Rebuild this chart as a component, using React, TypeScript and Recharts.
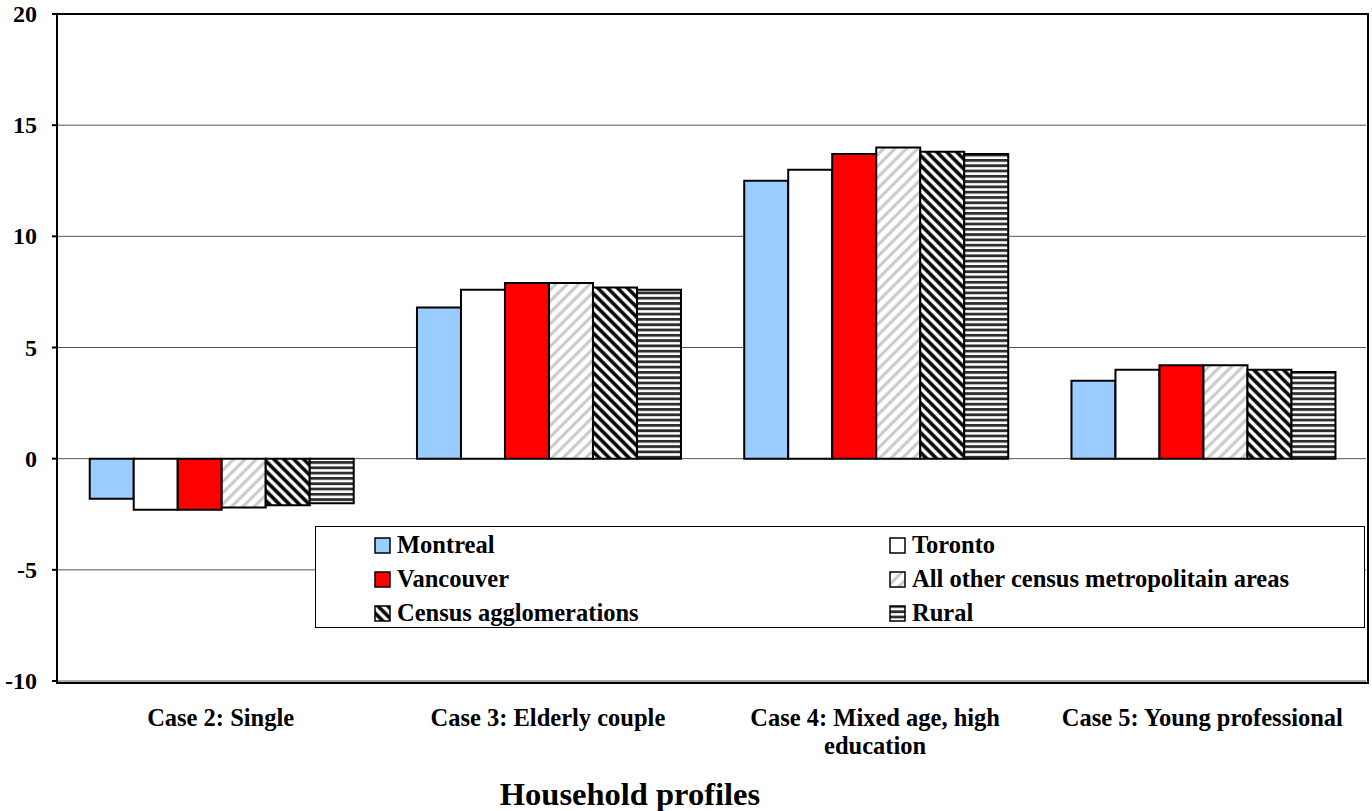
import { Bar, BarChart, CartesianGrid, XAxis, YAxis } from "recharts";

// Household profiles (x axis); "\n" marks where a label wraps
const profiles = [
  "Case 2: Single",
  "Case 3: Elderly couple",
  "Case 4: Mixed age, high\neducation",
  "Case 5: Young professional",
];

const montreal = [-1.8, 6.8, 12.5, 3.5];
const toronto = [-2.3, 7.6, 13.0, 4.0];
const vancouver = [-2.3, 7.9, 13.7, 4.2];
const otherCma = [-2.2, 7.9, 14.0, 4.2];
const censusAgglo = [-2.1, 7.7, 13.8, 4.0];
const rural = [-2.0, 7.6, 13.7, 3.9];

const yTicks = [-10, -5, 0, 5, 10, 15, 20];

const series = [
  { key: "montreal", name: "Montreal", values: montreal, fill: "#99ccff" },
  { key: "toronto", name: "Toronto", values: toronto, fill: "#ffffff" },
  { key: "vancouver", name: "Vancouver", values: vancouver, fill: "#ff0000" },
  { key: "otherCma", name: "All other census metropolitain areas", values: otherCma, fill: "url(#hatchOther)" },
  { key: "censusAgglo", name: "Census agglomerations", values: censusAgglo, fill: "url(#hatchAgglo)" },
  { key: "rural", name: "Rural", values: rural, fill: "url(#hatchRural)" },
];

const data = profiles.map((profile, i) => {
  const row: Record<string, string | number> = { profile };
  series.forEach((s) => {
    row[s.key] = s.values[i];
  });
  return row;
});

const FONT = "'Liberation Serif', 'Times New Roman', serif";

const W = 1372;
const H = 811;
const PLOT = { left: 57, top: 14, right: 1366, bottom: 681 };

// legend layout: left column and right column
const legendOrder = [
  ["montreal", "toronto"],
  ["vancouver", "otherCma"],
  ["censusAgglo", "rural"],
];

function Patterns() {
  return (
    <defs>
      <pattern id="hatchOther" patternUnits="userSpaceOnUse" width="8" height="8" patternTransform="rotate(45)">
        <rect width="8" height="8" fill="#ffffff" />
        <line x1="2" y1="0" x2="2" y2="8" stroke="#c8c8c8" strokeWidth="3" />
      </pattern>
      <pattern id="hatchAgglo" patternUnits="userSpaceOnUse" width="7" height="7" patternTransform="rotate(-45)">
        <rect width="7" height="7" fill="#ffffff" />
        <line x1="2" y1="0" x2="2" y2="7" stroke="#000000" strokeWidth="3.5" />
      </pattern>
      <pattern id="hatchRural" patternUnits="userSpaceOnUse" width="6" height="5.3">
        <rect width="6" height="5.3" fill="#ffffff" />
        <rect y="0" width="6" height="2.8" fill="#2e2e2e" />
      </pattern>
    </defs>
  );
}

function YTick(props: any) {
  const { x, y, payload } = props;
  return (
    <text x={x} y={y} dy={8} textAnchor="end" fontFamily={FONT} fontWeight="bold" fontSize={24} fill="#000">
      {payload.value}
    </text>
  );
}

function XTick(props: any) {
  const { x, y, payload } = props;
  const lines = String(payload.value).split("\n");
  return (
    <text x={x} y={y} textAnchor="middle" fontFamily={FONT} fontWeight="bold" fontSize={24.5} fill="#000">
      {lines.map((line, i) => (
        <tspan key={i} x={x} dy={i === 0 ? 37 : 28}>
          {line}
        </tspan>
      ))}
    </text>
  );
}

export default function App() {
  return (
    <div style={{ position: "absolute", left: 0, top: 0, width: W, height: H, background: "#fff" }}>
      <BarChart
        width={W}
        height={H}
        data={data}
        margin={{ top: PLOT.top, right: W - PLOT.right, bottom: 0, left: 0 }}
        barCategoryGap="10%"
        barGap={0}
      >
        <Patterns />
        <CartesianGrid vertical={false} stroke="#555" strokeWidth={1} />
        <XAxis
          dataKey="profile"
          axisLine={false}
          tickLine={false}
          height={H - PLOT.bottom}
          interval={0}
          tick={<XTick />}
        />
        <YAxis
          width={PLOT.left}
          domain={[-10, 20]}
          ticks={yTicks}
          interval={0}
          axisLine={false}
          tickSize={5}
          tickMargin={15}
          tickLine={{ stroke: "#000", strokeWidth: 2 }}
          tick={<YTick />}
        />
        {series.map((s) => (
          <Bar
            key={s.key}
            dataKey={s.key}
            name={s.name}
            fill={s.fill}
            stroke="#000"
            strokeWidth={2}
            isAnimationActive={false}
          />
        ))}
      </BarChart>

      {/* plot frame */}
      <div
        style={{
          position: "absolute",
          left: PLOT.left - 1,
          top: PLOT.top - 1,
          width: PLOT.right - PLOT.left,
          height: PLOT.bottom - PLOT.top,
          border: "2px solid #000",
          pointerEvents: "none",
        }}
      />

      {/* legend box */}
      <div
        style={{
          position: "absolute",
          left: 315,
          top: 526,
          width: 1365 - 315,
          height: 628 - 526,
          boxSizing: "border-box",
          border: "1.5px solid #000",
          background: "#fff",
          fontFamily: FONT,
          fontWeight: "bold",
          fontSize: 24.5,
        }}
      >
        {legendOrder.map((row, r) =>
          row.map((key, c) => {
            const s = series.find((d) => d.key === key)!;
            return (
              <div
                key={key}
                style={{
                  position: "absolute",
                  left: c === 0 ? 58 : 573,
                  top: 3 + r * 34,
                  display: "flex",
                  alignItems: "center",
                  height: 30,
                  whiteSpace: "nowrap",
                }}
              >
                <svg width={17} height={17} style={{ marginRight: 6 }}>
                  <rect x={1} y={1} width={15} height={15} fill={s.fill} stroke="#000" strokeWidth={1.5} />
                </svg>
                <span>{s.name}</span>
              </div>
            );
          })
        )}
      </div>

      <div
        style={{
          position: "absolute",
          left: 380,
          width: 500,
          top: 776,
          textAlign: "center",
          fontFamily: FONT,
          fontWeight: "bold",
          fontSize: 32.5,
        }}
      >
        Household profiles
      </div>
    </div>
  );
}
